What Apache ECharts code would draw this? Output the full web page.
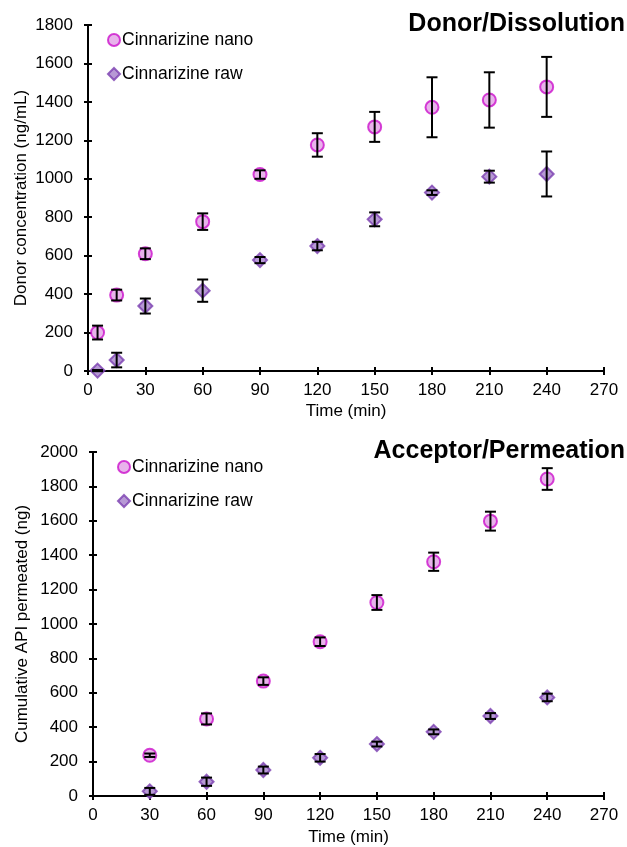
<!DOCTYPE html>
<html>
<head>
<meta charset="utf-8">
<script src="https://cdn.jsdelivr.net/npm/echarts@6/dist/echarts.min.js"></script>
<style>
  html, body { margin: 0; padding: 0; background: #fff; }
  #main { width: 627px; height: 847px; }
</style>
</head>
<body>
<div id="main"></div>
<script>
// Donor / dissolution (ng/mL)
const donorTime = [5, 15, 30, 60, 90, 120, 150, 180, 210, 240];
const donorNano = [200, 395, 610, 777, 1022, 1176, 1270, 1372, 1410, 1478];
const donorNanoErr = [36, 28, 28, 43, 22, 61, 78, 156, 144, 156];
const donorRaw = [2, 57, 338, 418, 577, 650, 789, 928, 1011, 1025];
const donorRawErr = [3, 38, 39, 58, 16, 22, 36, 12, 31, 117];

// Acceptor / permeation (ng)
const accTime = [30, 60, 90, 120, 150, 180, 210, 240];
const accNano = [237, 448, 668, 897, 1125, 1362, 1598, 1843];
const accNanoErr = [10, 32, 22, 25, 43, 53, 55, 63];
const accRaw = [27, 83, 151, 222, 302, 373, 465, 573];
const accRawErr = [20, 24, 20, 22, 14, 14, 17, 22];

const xTicks = [0, 30, 60, 90, 120, 150, 180, 210, 240, 270];

const FONT = 'Liberation Sans';
const nanoStyle = { color: '#e2a0e6', borderColor: '#cc11cc', borderWidth: 2 };
const rawStyle = { color: '#a57fcb', borderColor: '#7a3fb0', borderWidth: 2 };

const chart = echarts.init(document.getElementById('main'), null, { width: 627, height: 847 });

function pairs(xs, ys) {
  return xs.map((x, i) => [x, ys[i]]);
}
function errData(xs, ys, es) {
  return xs.map((x, i) => [x, ys[i] - es[i], ys[i] + es[i]]);
}
function errSeries(idx, data) {
  return {
    type: 'custom',
    xAxisIndex: idx,
    yAxisIndex: idx,
    z: 5,
    silent: true,
    data: data,
    encode: { x: 0, y: [1, 2] },
    renderItem: (params, api) => {
      const lo = api.coord([api.value(0), api.value(1)]);
      const hi = api.coord([api.value(0), api.value(2)]);
      const half = 5.5;
      const style = { stroke: '#000', lineWidth: 2 };
      return {
        type: 'group',
        children: [
          { type: 'line', shape: { x1: lo[0], y1: lo[1], x2: hi[0], y2: hi[1] }, style },
          { type: 'line', shape: { x1: lo[0] - half, y1: lo[1], x2: lo[0] + half, y2: lo[1] }, style },
          { type: 'line', shape: { x1: hi[0] - half, y1: hi[1], x2: hi[0] + half, y2: hi[1] }, style },
        ],
      };
    },
  };
}

function xAxisOf(idx, withLabels) {
  return {
    type: 'value',
    gridIndex: idx,
    position: 'bottom',
    min: 0,
    max: 270,
    interval: 30,
    name: withLabels ? 'Time (min)' : '',
    nameLocation: 'middle',
    nameMoveOverlap: false,
    nameGap: idx === 0 ? 32 : 33,
    nameTextStyle: { fontFamily: FONT, fontSize: 17, color: '#000' },
    axisLine: { show: true, onZero: false, lineStyle: { color: '#000', width: 2 } },
    axisTick: { show: true, inside: !withLabels, length: 4, lineStyle: { color: '#000', width: 2 } },
    axisLabel: {
      show: withLabels,
      fontFamily: FONT, fontSize: 17, color: '#000', margin: 11,
      formatter: (v) => (xTicks.includes(v) ? String(v) : ''),
    },
    splitLine: { show: false },
  };
}
function yAxisOf(idx, max, name, gap, withLabels) {
  return {
    type: 'value',
    gridIndex: idx,
    position: 'left',
    min: 0,
    max: max,
    interval: 200,
    name: withLabels ? name : '',
    nameLocation: 'middle',
    nameMoveOverlap: false,
    nameGap: gap,
    nameTextStyle: { fontFamily: FONT, fontSize: 17, color: '#000' },
    axisLine: { show: true, onZero: false, lineStyle: { color: '#000', width: 2 } },
    axisTick: { show: true, inside: !withLabels, length: 4, lineStyle: { color: '#000', width: 2 } },
    axisLabel: {
      show: withLabels, fontFamily: FONT, fontSize: 17, color: '#000', margin: 15,
      formatter: (v) => String(v),
    },
    splitLine: { show: false },
  };
}

const legendText = { fontFamily: FONT, fontSize: 17.5, color: '#000', padding: [0, 0, 0, -3] };

chart.setOption({
  animation: false,
  textStyle: { fontFamily: FONT },
  title: [
    {
      text: 'Donor/Dissolution',
      right: 2, top: 12, padding: 0,
      textStyle: { fontFamily: FONT, fontSize: 25, fontWeight: 'bold', color: '#000' },
    },
    {
      text: 'Acceptor/Permeation',
      right: 2, top: 439, padding: 0,
      textStyle: { fontFamily: FONT, fontSize: 25, fontWeight: 'bold', color: '#000' },
    },
  ],
  legend: [
    {
      left: 107, top: 31, orient: 'vertical', padding: 0,
      itemWidth: 12, itemHeight: 12, itemGap: 16,
      textStyle: legendText,
      data: ['Cinnarizine nano', 'Cinnarizine raw'],
    },
    {
      left: 117, top: 458, orient: 'vertical', padding: 0,
      itemWidth: 12, itemHeight: 12, itemGap: 16,
      textStyle: legendText,
      data: ['Cinnarizine nano', 'Cinnarizine raw'],
    },
  ],
  grid: [
    { left: 88, top: 25, width: 516, height: 346 },
    { left: 93, top: 452, width: 511, height: 346 },
  ],
  xAxis: [xAxisOf(0, true), xAxisOf(1, true), xAxisOf(0, false), xAxisOf(1, false)],
  yAxis: [
    yAxisOf(0, 1800, 'Donor concentration (ng/mL)', 58, true),
    yAxisOf(1, 2000, 'Cumulative API permeated (ng)', 62, true),
    yAxisOf(0, 1800, '', 58, false),
    yAxisOf(1, 2000, '', 62, false),
  ],
  series: [
    {
      name: 'Cinnarizine nano', type: 'scatter', xAxisIndex: 0, yAxisIndex: 0,
      symbol: 'circle', symbolSize: 13, itemStyle: nanoStyle, z: 3,
      data: pairs(donorTime, donorNano),
    },
    {
      name: 'Cinnarizine raw', type: 'scatter', xAxisIndex: 0, yAxisIndex: 0,
      symbol: 'diamond', symbolSize: 14, itemStyle: rawStyle, z: 3,
      data: pairs(donorTime, donorRaw),
    },
    errSeries(0, errData(donorTime, donorNano, donorNanoErr)),
    errSeries(0, errData(donorTime, donorRaw, donorRawErr)),
    {
      name: 'Cinnarizine nano', type: 'scatter', xAxisIndex: 1, yAxisIndex: 1,
      symbol: 'circle', symbolSize: 13, itemStyle: nanoStyle, z: 3,
      data: pairs(accTime, accNano),
    },
    {
      name: 'Cinnarizine raw', type: 'scatter', xAxisIndex: 1, yAxisIndex: 1,
      symbol: 'diamond', symbolSize: 14, itemStyle: rawStyle, z: 3,
      data: pairs(accTime, accRaw),
    },
    errSeries(1, errData(accTime, accNano, accNanoErr)),
    errSeries(1, errData(accTime, accRaw, accRawErr)),
  ],
});
</script>
</body>
</html>
